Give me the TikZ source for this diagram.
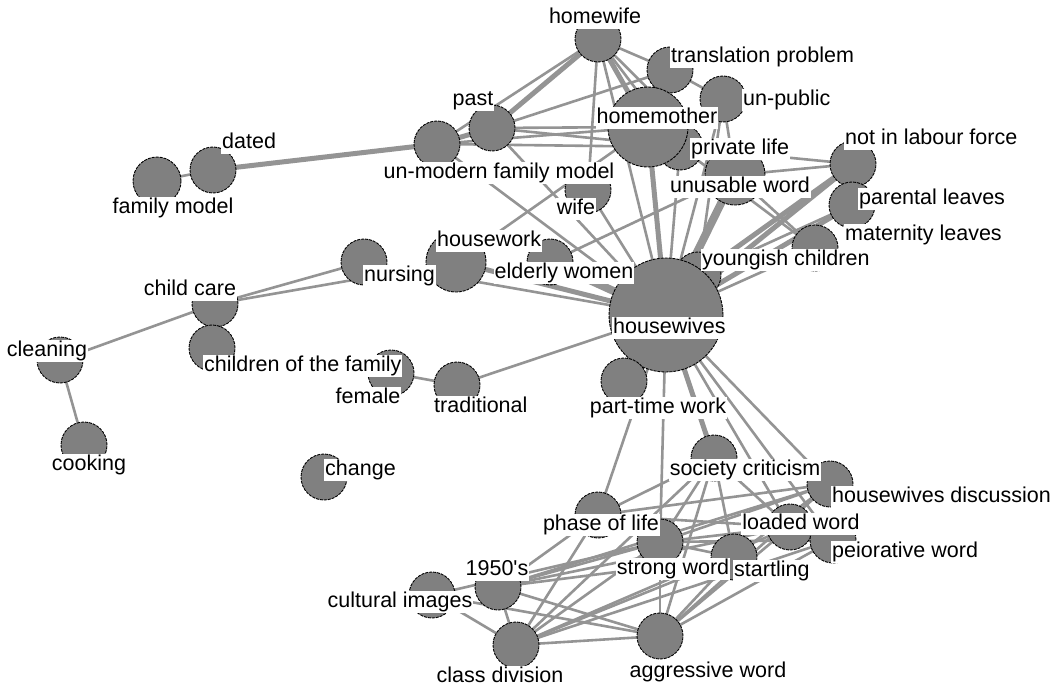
\documentclass[tikz,border=0pt]{standalone}
\usepackage{fontspec}
\setmainfont{Liberation Sans}
\definecolor{ng}{RGB}{128,128,128}
\definecolor{eg}{RGB}{148,148,148}
\pgfdeclarelayer{bg}\pgfdeclarelayer{fg}\pgfsetlayers{bg,main,fg}
\begin{document}
\begin{tikzpicture}[x=1pt,y=-1pt,
 nd/.style={circle,fill=ng,draw=black,line width=0.9pt,dash pattern=on 3pt off 1pt,inner sep=0pt,minimum size=46pt},
 lb/.style={fill=white,inner xsep=1pt,inner ysep=1pt,text height=15.5pt,text depth=5pt,font=\fontsize{21.5}{24}\selectfont},
 e/.style={draw=eg,line width=2.6pt},
 E/.style={draw=eg,line width=5pt},
 EE/.style={draw=eg,line width=8pt}]
\useasboundingbox (0,0) rectangle (1062,687);
\begin{pgfonlayer}{bg}
\fill[white] (0,0) rectangle (1062,687);
\end{pgfonlayer}
% circles
\node[nd] (privlife) at (680,147) {};
\node[nd] (youngish) at (698,275) {};
\node[nd] (female) at (391,373) {};
\node[nd] (elderly) at (550,262) {};
\node[nd] (homewife) at (598,39) {};
\node[nd] (transl) at (670,70) {};
\node[nd] (unpublic) at (723,99) {};
\node[nd,minimum size=80pt] (homemother) at (648,127) {};
\node[nd] (past) at (492,128) {};
\node[nd] (unmodern) at (437,144) {};
\node[nd] (dated) at (213,170) {};
\node[nd,minimum size=48pt] (famodel) at (157,181) {};
\node[nd] (wife) at (588,190) {};
\node[nd,minimum size=60pt] (unusable) at (735,175) {};
\node[nd] (notlab) at (853,164) {};
\node[nd] (parental) at (852,205) {};
\node[nd] (maternity) at (815,248) {};
\node[nd,minimum size=114pt] (housewives) at (666,315) {};
\node[nd,minimum size=60pt] (housework) at (456,262) {};
\node[nd] (nursing) at (364,262) {};
\node[nd] (childcare) at (215,304) {};
\node[nd] (childfam) at (212,348) {};
\node[nd] (cleaning) at (60,360) {};
\node[nd] (cooking) at (84,445) {};
\node[nd] (traditional) at (457,385) {};
\node[nd] (parttime) at (624,381) {};
\node[nd] (change) at (324,477) {};
\node[nd] (society) at (714,458) {};
\node[nd] (hwdisc) at (830,484) {};
\node[nd] (loaded) at (790,527) {};
\node[nd] (peiorative) at (833,540) {};
\node[nd] (phase) at (598,515) {};
\node[nd] (strong) at (660,542) {};
\node[nd] (startling) at (734,557) {};
\node[nd] (n1950) at (498,587) {};
\node[nd] (cultural) at (432,595) {};
\node[nd] (classdiv) at (516,645) {};
\node[nd] (aggressive) at (660,636) {};
% edges
\begin{pgfonlayer}{bg}
\foreach \a/\b in {famodel/dated, unmodern/homewife, past/transl, past/homemother,
  unmodern/homemother, unmodern/privlife, past/privlife, homewife/privlife,
  homewife/unusable, homewife/housewives, homewife/transl, homewife/wife,
  transl/unpublic, unpublic/unusable, unpublic/youngish, privlife/notlab,
  unusable/notlab, housewives/privlife, housewives/unpublic, youngish/parental,
  housewives/maternity, unusable/maternity, privlife/maternity, nursing/housewives,
  housework/homemother, elderly/unusable, wife/housewives, unmodern/housewives,
  past/housewives, nursing/childcare, housework/childcare, childcare/cleaning,
  cleaning/cooking, female/traditional, traditional/housewives, housewives/strong,
  housewives/phase, housewives/loaded, housewives/peiorative, housewives/hwdisc,
  society/strong, society/startling, society/loaded, society/classdiv, society/phase,
  society/aggressive, hwdisc/phase, hwdisc/strong, hwdisc/n1950, hwdisc/startling,
  hwdisc/aggressive, loaded/n1950, loaded/strong, loaded/phase, loaded/classdiv,
  loaded/aggressive, peiorative/strong, peiorative/aggressive, peiorative/classdiv,
  startling/n1950, startling/classdiv, startling/aggressive, startling/strong,
  strong/n1950, strong/classdiv, strong/aggressive, strong/cultural, phase/n1950,
  phase/classdiv, n1950/classdiv, n1950/aggressive, cultural/classdiv,
  cultural/aggressive, classdiv/aggressive}
  \draw[e] (\a.center) -- (\b.center);
\foreach \a/\b in {dated/unmodern, unmodern/past, past/homewife, homewife/homemother,
  housewives/homemother, housewives/notlab, youngish/notlab, housewives/parental,
  housework/housewives, housewives/society}
  \draw[E] (\a.center) -- (\b.center);
\foreach \a/\b in {housewives/unusable, elderly/housewives}
  \draw[EE] (\a.center) -- (\b.center);
\end{pgfonlayer}
% labels
\begin{pgfonlayer}{fg}
\node[lb] (l-homewife) at (595,18) {homewife};
\node[lb,anchor=west] (l-transl) at (670,57) {translation problem};
\node[lb,anchor=west] (l-unpublic) at (742,100) {un-public};
\node[lb,anchor=west] (l-privlife) at (690,149) {private life};
\node[lb] (l-homemother) at (657,118) {homemother};
\node[lb] (l-past) at (473,100) {past};
\node[lb] (l-unmodern) at (499,173) {un-modern family model};
\node[lb,anchor=west] (l-dated) at (221,143) {dated};
\node[lb] (l-famodel) at (173,208) {family model};
\node[lb] (l-wife) at (576,209) {wife};
\node[lb] (l-unusable) at (740,187) {unusable word};
\node[lb,anchor=west] (l-notlab) at (844,139) {not in labour force};
\node[lb,anchor=west] (l-parental) at (858,199) {parental leaves};
\node[lb,anchor=west] (l-maternity) at (844,235) {maternity leaves};
\node[lb,anchor=west] (l-youngish) at (701,260) {youngish children};
\node[lb,anchor=west] (l-housewives) at (612,328) {housewives};
\node[lb] (l-elderly) at (564,273) {elderly women};
\node[lb,anchor=west] (l-housework) at (436,241) {housework};
\node[lb,anchor=west] (l-nursing) at (363,276) {nursing};
\node[lb] (l-childcare) at (190,290) {child care};
\node[lb,anchor=west] (l-childfam) at (203,366) {children of the family};
\node[lb] (l-cleaning) at (47,351) {cleaning};
\node[lb] (l-cooking) at (89,465) {cooking};
\node[lb] (l-female) at (368,398) {female};
\node[lb,anchor=west] (l-traditional) at (433,407) {traditional};
\node[lb] (l-parttime) at (658,408) {part-time work};
\node[lb,anchor=west] (l-change) at (324,470) {change};
\node[lb] (l-society) at (745,470) {society criticism};
\node[lb,anchor=west] (l-hwdisc) at (831,497) {housewives discussion};
\node[lb] (l-loaded) at (801,524) {loaded word};
\node[lb,anchor=west] (l-peiorative) at (831,552) {peiorative word};
\node[lb] (l-phase) at (601,525) {phase of life};
\node[lb] (l-strong) at (673,569) {strong word};
\node[lb,anchor=west] (l-startling) at (733,571) {startling};
\node[lb] (l-n1950) at (497,570) {1950\textquotesingle s};
\node[lb] (l-cultural) at (400,602) {cultural images};
\node[lb] (l-classdiv) at (500,677) {class division};
\node[lb] (l-aggressive) at (708,672) {aggressive word};
\end{pgfonlayer}
\end{tikzpicture}
\end{document}
